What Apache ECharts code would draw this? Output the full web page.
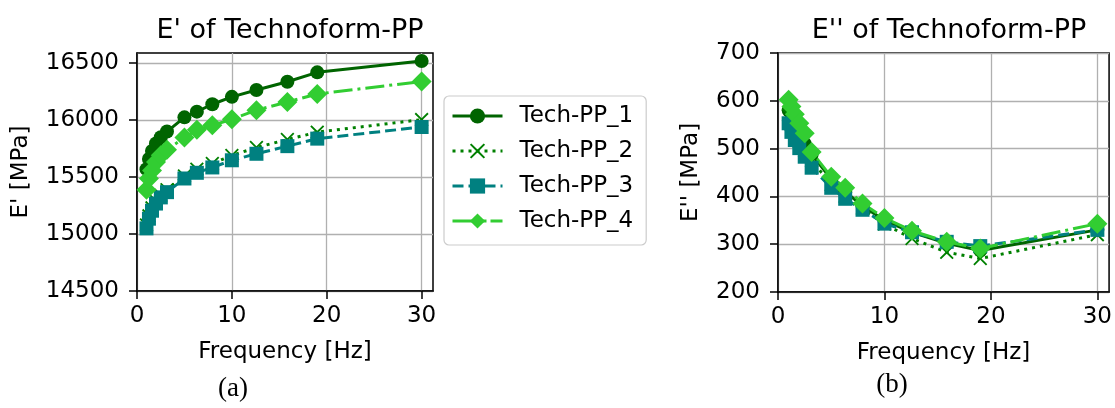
<!DOCTYPE html>
<html>
<head>
<meta charset="utf-8">
<script src="https://cdn.jsdelivr.net/npm/echarts@6/dist/echarts.min.js"></script>
<style>
  html, body { margin: 0; padding: 0; background: #fff; }
  #chart { width: 1115px; height: 408px; }
</style>
</head>
<body>
<div id="chart"></div>
<script type="text/javascript">
// frequencies [Hz]
var freq = [1, 1.26, 1.58, 2, 2.51, 3.16, 5, 6.31, 7.94, 10, 12.59, 15.85, 19, 30];

// storage modulus E' [MPa]
var storage1 = [15570, 15660, 15730, 15795, 15850, 15900, 16025, 16075, 16140, 16205, 16265, 16338, 16420, 16520];
var storage2 = [15080, 15160, 15230, 15290, 15340, 15390, 15510, 15570, 15620, 15690, 15760, 15830, 15895, 16005];
var storage3 = [15050, 15135, 15205, 15268, 15322, 15368, 15488, 15538, 15585, 15648, 15705, 15772, 15838, 15940];
var storage4 = [15390, 15488, 15559, 15632, 15691, 15740, 15848, 15915, 15955, 16008, 16088, 16160, 16230, 16340];

// loss modulus E'' [MPa]
var loss1 = [580, 562, 545, 528, 510, 488, 436, 410, 380, 350, 325, 302, 287, 330];
var loss2 = [570, 550, 535, 515, 495, 475, 425, 400, 375, 342, 312, 283, 270, 320];
var loss3 = [553, 535, 518, 501, 483, 460, 418, 395, 372, 343, 325, 305, 296, 330];
var loss4 = [602, 588, 572, 553, 532, 493, 441, 418, 385, 355, 328, 305, 291, 343];

var storageTicks = [14500, 15000, 15500, 16000, 16500];
var lossTicks = [200, 300, 400, 500, 600, 700];
var freqTicks = [0, 10, 20, 30];

var names = ['Tech-PP_1', 'Tech-PP_2', 'Tech-PP_3', 'Tech-PP_4'];
var colors = ['#006400', '#008000', '#008080', '#32cd32'];
var symbols = ['circle',
  'path://M0,1.3L1.3,0L7,5.7L12.7,0L14,1.3L8.3,7L14,12.7L12.7,14L7,8.3L1.3,14L0,12.7L5.7,7Z',
  'rect', 'diamond'];
var symbolSizes = [14, 14, 14, 20];
var dashes = ['solid', [3, 5], [11, 5], [19, 5, 3, 5]];
// dash patterns for the short legend handles
var legendDashes = ['solid', [3, 5], [11, 5], [34, 4]];

var font = 'DejaVu Sans';

function pairs(xs, ys) {
  return xs.map(function (x, i) { return [x, ys[i]]; });
}

function makeSeries(idx, values, axisIdx) {
  return {
    name: names[idx],
    type: 'line',
    xAxisIndex: axisIdx,
    yAxisIndex: axisIdx,
    data: pairs(freq, values),
    symbol: symbols[idx],
    symbolSize: symbolSizes[idx],
    symbolKeepAspect: true,
    showAllSymbol: true,
    color: colors[idx],
    itemStyle: { color: colors[idx] },
    lineStyle: { color: colors[idx], width: 3, type: dashes[idx] },
    emphasis: { disabled: true }
  };
}

function plain(v) { return String(v); }

function xAxisOpt(gridIdx, max) {
  return {
    type: 'value',
    gridIndex: gridIdx,
    min: 0,
    max: max,
    interval: 10,
    name: 'Frequency [Hz]',
    nameLocation: 'middle',
    nameGap: 50,
    nameTextStyle: { fontFamily: font, fontSize: 23, color: '#000' },
    axisLine: { show: true, onZero: false, lineStyle: { color: '#000', width: 1.5 } },
    axisTick: { show: true, length: 8, lineStyle: { color: '#000', width: 1.5 }, customValues: freqTicks },
    axisLabel: { fontFamily: font, fontSize: 23, color: '#000', margin: 14, customValues: freqTicks, formatter: plain },
    splitLine: { show: true, lineStyle: { color: '#b0b0b0', width: 1.3 } }
  };
}

function yAxisOpt(gridIdx, min, max, interval, name, gap, ticks) {
  return {
    type: 'value',
    gridIndex: gridIdx,
    min: min,
    max: max,
    interval: interval,
    name: name,
    nameLocation: 'middle',
    nameGap: gap,
    nameTextStyle: { fontFamily: font, fontSize: 23, color: '#000' },
    axisLine: { show: true, onZero: false, lineStyle: { color: '#000', width: 1.5 } },
    axisTick: { show: true, length: 8, lineStyle: { color: '#000', width: 1.5 }, customValues: ticks },
    axisLabel: { fontFamily: font, fontSize: 23, color: '#000', margin: 18, customValues: ticks, formatter: plain },
    splitLine: { show: true, lineStyle: { color: '#b0b0b0', width: 1.3 } }
  };
}

var legendData = names.map(function (n, i) {
  return { name: n, lineStyle: { color: colors[i], width: 3, type: legendDashes[i] } };
});

var chart = echarts.init(document.getElementById('chart'));
var option = {
  animation: false,
  backgroundColor: '#fff',
  title: [
    { text: "E' of Technoform-PP", left: 285, top: 12, textAlign: 'center',
      textStyle: { fontFamily: font, fontSize: 27, fontWeight: 'normal', color: '#000' } },
    { text: "E'' of Technoform-PP", left: 944, top: 12, textAlign: 'center',
      textStyle: { fontFamily: font, fontSize: 27, fontWeight: 'normal', color: '#000' } },
    { text: '(a)', left: 228, top: 370, textAlign: 'center',
      textStyle: { fontFamily: 'Liberation Serif', fontSize: 27, fontWeight: 'normal', color: '#000' } },
    { text: '(b)', left: 887, top: 366, textAlign: 'center',
      textStyle: { fontFamily: 'Liberation Serif', fontSize: 27, fontWeight: 'normal', color: '#000' } }
  ],
  legend: {
    data: legendData,
    orient: 'vertical',
    left: 444,
    top: 96,
    padding: [8, 13, 12, 7],
    itemWidth: 50,
    itemHeight: 19,
    itemGap: 11,
    backgroundColor: 'rgba(255,255,255,0.8)',
    borderColor: '#cccccc',
    borderWidth: 1.2,
    borderRadius: 5,
    lineStyle: { width: 3 },
    textStyle: { fontFamily: font, fontSize: 23, color: '#000', lineHeight: 24, padding: [0, 0, 0, 12] },
    selectedMode: false
  },
  grid: [
    { left: 137, right: 682, top: 53, bottom: 117, show: true, borderColor: '#000', borderWidth: 1.5, backgroundColor: 'transparent' },
    { left: 778, right: 3, top: 53, bottom: 116, show: true, borderColor: '#000', borderWidth: 1.5, backgroundColor: 'transparent' }
  ],
  xAxis: [xAxisOpt(0, 31.2), xAxisOpt(1, 31.1)],
  yAxis: [
    yAxisOpt(0, 14500, 16590, 500, "E' [MPa]", 104, storageTicks),
    yAxisOpt(1, 200, 700, 100, "E'' [MPa]", 75, lossTicks)
  ],
  series: [
    makeSeries(0, storage1, 0),
    makeSeries(1, storage2, 0),
    makeSeries(2, storage3, 0),
    makeSeries(3, storage4, 0),
    makeSeries(0, loss1, 1),
    makeSeries(1, loss2, 1),
    makeSeries(2, loss3, 1),
    makeSeries(3, loss4, 1)
  ]
};
chart.setOption(option);
</script>
</body>
</html>
